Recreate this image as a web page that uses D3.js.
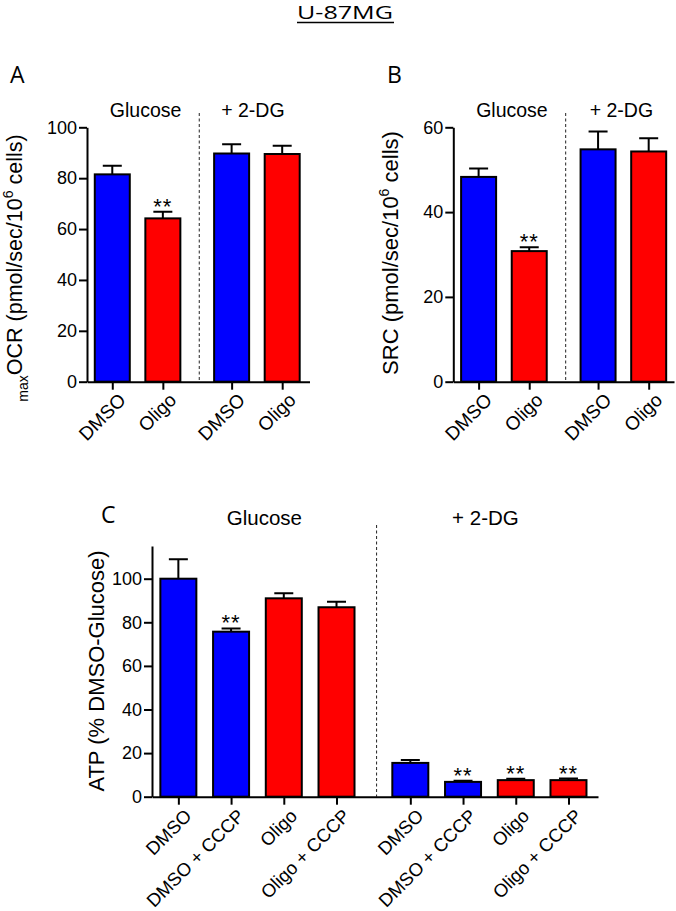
<!DOCTYPE html>
<html lang="en">
<head>
    <meta charset="UTF-8">
    <title>U-87MG</title>
    <script src="https://d3js.org/d3.v7.min.js"></script>
    <style>
        body { margin: 0; background: #fff; }
        svg text { font-family: "Liberation Sans", Arial, Helvetica, sans-serif; fill: #000; }
        svg text.hdr { font-family: "Open Sans", "Liberation Sans", sans-serif; }
        .axis path, .axis line { stroke: #000; stroke-width: 2px; }
        .bar { stroke: #000; stroke-width: 2px; }
        .err { stroke: #000; stroke-width: 2px; fill: none; }
        .divider { stroke: #222; stroke-width: 1px; stroke-dasharray: 3 2.5; }
    </style>
</head>
<body>
    <svg width="676" height="911"></svg>
    <script>
        // groups and conditions
        var groupsAB = ["Glucose", "+ 2-DG"];
        var condAB = ["DMSO", "Oligo"];
        var colorsAB = ["#0000ff", "#ff0000"];

        // panel A : maxOCR
        var ocrMean = [81.5, 64.2, 89.7, 89.5];
        var ocrSem  = [3.4, 2.6, 3.6, 3.2];
        var ocrSig  = [false, true, false, false];
        var ocrTicks = [0, 20, 40, 60, 80, 100];

        // panel B : SRC
        var srcMean = [48.3, 30.8, 54.8, 54.3];
        var srcSem  = [2.0, 0.9, 4.2, 3.1];
        var srcSig  = [false, true, false, false];
        var srcTicks = [0, 20, 40, 60];

        // panel C : ATP
        var condC = ["DMSO", "DMSO + CCCP", "Oligo", "Oligo + CCCP"];
        var colorsC = ["#0000ff", "#0000ff", "#ff0000", "#ff0000"];
        var atpMean = [100, 75.7, 91.0, 86.9, 15.5, 6.8, 7.6, 7.6];
        var atpSem  = [8.9, 1.5, 2.3, 2.5, 1.3, 0.5, 0.6, 0.7];
        var atpSig  = [false, true, false, false, false, true, true, true];
        var atpTicks = [0, 20, 40, 60, 80, 100];

        var svg = d3.select("svg");

        // title
        svg.append("text").attr("class", "hdr")
            .attr("x", 345).attr("y", 18.5)
            .attr("text-anchor", "middle")
            .attr("font-size", 19)
            .attr("textLength", 96).attr("lengthAdjust", "spacingAndGlyphs")
            .text("U-87MG");
        svg.append("line")
            .attr("x1", 297).attr("x2", 394).attr("y1", 22.5).attr("y2", 22.5)
            .attr("stroke", "#000").attr("stroke-width", 1.6);

        function drawPanel(p) {
            var g = svg.append("g");
            var n = p.cond.length;
            var rows = [];
            p.mean.forEach(function(v, i) {
                var grp = Math.floor(i / n);
                rows.push({
                    slot: grp * (n + p.gapExtra) + (i % n),
                    label: p.cond[i % n],
                    group: grp,
                    mean: v,
                    sem: p.sem[i],
                    sig: p.sig[i],
                    color: p.colors[i % p.colors.length]
                });
            });

            var x = d3.scaleLinear().domain(p.xDomain).range(p.xRange);
            var y = d3.scaleLinear().domain([0, p.yMax]).range(p.yRange);

            // divider between groups
            var divSlot = ((n - 1) + (n + p.gapExtra)) / 2 + p.divShift;
            g.append("line").attr("class", "divider")
                .attr("x1", x(divSlot)).attr("x2", x(divSlot))
                .attr("y1", p.divTop).attr("y2", y(0));

            // group headers
            p.groups.forEach(function(name, gi) {
                var start = gi * (n + p.gapExtra);
                var mid = start + (n - 1) / 2;
                g.append("text")
                    .attr("x", x(mid) + p.hdrShift[gi]).attr("y", p.hdrY)
                    .attr("text-anchor", "middle")
                    .attr("font-size", p.hdrSize)
                    .text(name);
            });

            // bars
            g.selectAll("rect.bar").data(rows).enter().append("rect")
                .attr("class", "bar")
                .attr("x", function(d) { return x(d.slot) - p.barW / 2; })
                .attr("width", p.barW)
                .attr("y", function(d) { return y(d.mean); })
                .attr("height", function(d) { return y(0) - y(d.mean); })
                .attr("fill", function(d) { return d.color; });

            // error bars (upper only)
            g.selectAll("path.err").data(rows).enter().append("path")
                .attr("class", "err")
                .attr("d", function(d) {
                    var cx = x(d.slot), t = y(d.mean + d.sem);
                    return "M" + cx + "," + y(d.mean) + "V" + t +
                        "M" + (cx - 9.5) + "," + t + "H" + (cx + 9.5);
                });

            // significance
            g.selectAll("text.sig").data(rows.filter(function(d) { return d.sig; }))
                .enter().append("text")
                .attr("x", function(d) { return x(d.slot); })
                .attr("y", function(d) { return y(d.mean + d.sem) + 2; })
                .attr("text-anchor", "middle")
                .attr("font-size", 22)
                .attr("letter-spacing", 1)
                .text("**");

            // y axis
            var ya = g.append("g").attr("class", "axis")
                .attr("transform", "translate(" + p.xRange[0] + ",0)")
                .call(d3.axisLeft(y).tickValues(p.ticks).tickSize(8).tickSizeOuter(0).tickPadding(2));
            ya.selectAll("text")
                .attr("font-size", p.tickSize)
                .attr("font-family", "Liberation Sans, Arial, sans-serif");

            // x axis
            g.append("g").attr("class", "axis")
                .attr("transform", "translate(0," + y(0) + ")")
                .call(d3.axisBottom(x).tickValues(rows.map(function(d) { return d.slot; }))
                    .tickFormat("").tickSize(8).tickSizeOuter(0));

            g.selectAll("text.xl").data(rows).enter().append("text")
                .attr("class", "xl")
                .attr("transform", function(d) {
                    return "translate(" + (x(d.slot) + p.xlDx) + "," + (y(0) + p.xlDy) + ") rotate(-45)";
                })
                .attr("text-anchor", "end")
                .attr("dy", "0.72em")
                .attr("font-size", p.xlSize)
                .text(function(d) { return d.label; });

            // panel letter
            svg.append("text").attr("class", "hdr")
                .attr("x", p.letterX).attr("y", p.letterY)
                .attr("font-size", 23)
                .text(p.letter);

            // y title
            var yt = svg.append("text")
                .attr("transform", "translate(" + p.ytX + "," + p.ytY + ") rotate(-90)")
                .attr("text-anchor", "middle")
                .attr("font-size", p.ytSize);
            p.ytParts.forEach(function(part) {
                var ts = yt.append("tspan").text(part.t);
                if (part.sub) ts.attr("font-size", 14).attr("dy", 6);
                else if (part.sup) ts.attr("font-size", 14).attr("dy", -9);
                if (part.dy) ts.attr("dy", part.dy);
            });
        }

        drawPanel({
            letter: "A", letterX: 10, letterY: 83,
            groups: groupsAB, cond: condAB, colors: colorsAB,
            mean: ocrMean, sem: ocrSem, sig: ocrSig, ticks: ocrTicks,
            gapExtra: 0.36, xDomain: [-0.5, 3.9], xRange: [87, 309.5],
            yMax: 100, yRange: [381.7, 127.3],
            barW: 35, divShift: 0.04, divTop: 113,
            hdrY: 116.7, hdrSize: 19.5, hdrShift: [8, -4],
            tickSize: 18, xlDx: 5, xlDy: 10, xlSize: 19,
            ytX: 22, ytY: 268, ytSize: 21.5,
            ytParts: [{ t: "max", sub: true }, { t: "OCR (pmol/sec/10", dy: -6 }, { t: "6", sup: true }, { t: " cells)", dy: 9 }]
        });

        drawPanel({
            letter: "B", letterX: 387, letterY: 83,
            groups: groupsAB, cond: condAB, colors: colorsAB,
            mean: srcMean, sem: srcSem, sig: srcSig, ticks: srcTicks,
            gapExtra: 0.36, xDomain: [-0.5, 3.86], xRange: [453.3, 674],
            yMax: 60, yRange: [381.7, 127.3],
            barW: 35, divShift: 0.04, divTop: 113,
            hdrY: 116.7, hdrSize: 19.5, hdrShift: [8, -2],
            tickSize: 18, xlDx: 5, xlDy: 10, xlSize: 19,
            ytX: 398, ytY: 253, ytSize: 22,
            ytParts: [{ t: "SRC (pmol/sec/10" }, { t: "6", sup: true }, { t: " cells)", dy: 9 }]
        });

        drawPanel({
            letter: "C", letterX: 101, letterY: 523,
            groups: groupsAB, cond: condC, colors: colorsC,
            mean: atpMean, sem: atpSem, sig: atpSig, ticks: atpTicks,
            gapExtra: 0.4, xDomain: [-0.5, 7.96], xRange: [152, 598],
            yMax: 115, yRange: [796.7, 546],
            barW: 36, divShift: 0.06, divTop: 525,
            hdrY: 525, hdrSize: 20.5, hdrShift: [7, -4],
            tickSize: 18, xlDx: 5, xlDy: 11, xlSize: 18.5,
            ytX: 104, ytY: 671, ytSize: 22,
            ytParts: [{ t: "ATP (% DMSO-Glucose)" }]
        });
    </script>
</body>
</html>
